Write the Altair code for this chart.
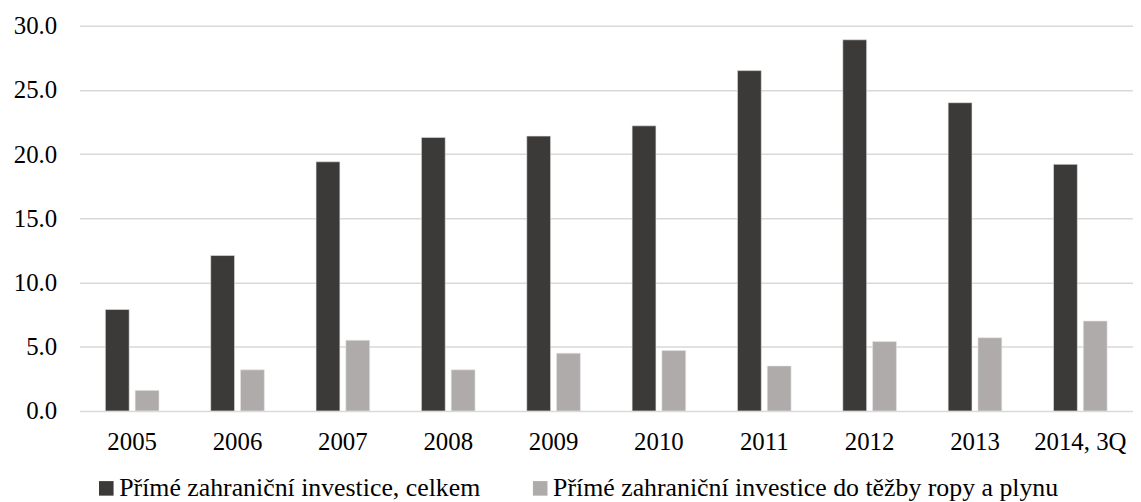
import altair as alt
import pandas as pd

years = ["2005", "2006", "2007", "2008", "2009", "2010", "2011", "2012", "2013", "2014, 3Q"]
total = [7.9, 12.1, 19.4, 21.3, 21.4, 22.2, 26.5, 28.9, 24.0, 19.2]
oil_gas = [1.6, 3.2, 5.5, 3.2, 4.5, 4.7, 3.5, 5.4, 5.7, 7.0]
series = ["Přímé zahraniční investice, celkem", "Přímé zahraniční investice do těžby ropy a plynu"]
colors = ["#3b3a38", "#aeabaa"]

rows = []
for i, y in enumerate(years):
    rows.append({"year": y, "series": series[0], "value": total[i]})
    rows.append({"year": y, "series": series[1], "value": oil_gas[i]})
df = pd.DataFrame(rows)

FONT = "Liberation Serif"

chart = alt.Chart(df).mark_bar(stroke="#e6e6e6", strokeWidth=0.6).encode(
    x=alt.X("year:N", sort=years, title=None,
            scale=alt.Scale(paddingInner=0.491, paddingOuter=0.2455),
            axis=alt.Axis(labelAngle=0, labelFont=FONT, labelFontSize=25, labelColor="#000000",
                          ticks=False, tickSize=0, domain=False, labelPadding=19, grid=False)),
    xOffset=alt.XOffset("series:N", sort=series,
                        scale=alt.Scale(paddingInner=0.2, paddingOuter=0)),
    y=alt.Y("value:Q", title=None,
            scale=alt.Scale(domain=[0, 30]),
            axis=alt.Axis(values=[0, 5, 10, 15, 20, 25, 30], format=".1f", labelFont=FONT,
                          labelFontSize=25, labelColor="#000000", ticks=False, tickSize=0,
                          domain=False, labelPadding=23, gridColor="#d9d9d9", gridWidth=1.5)),
    color=alt.Color("series:N", sort=series, title=None,
                    scale=alt.Scale(domain=series, range=colors),
                    legend=alt.Legend(orient="none", legendX=14, legendY=453, direction="horizontal",
                                      columns=2, columnPadding=47, symbolType="square",
                                      symbolSize=215, symbolStrokeWidth=0, labelFont=FONT,
                                      labelFontSize=26, labelColor="#000000", labelOffset=0,
                                      labelLimit=800, padding=0)),
).properties(
    width=1061, height=388,
    autosize=alt.AutoSizeParams(type="none"),
    padding={"left": 72, "top": 16, "right": 0, "bottom": 100},
).configure_view(stroke=None)

chart.save("out.html", embed_options={"renderer": "svg", "actions": False})
